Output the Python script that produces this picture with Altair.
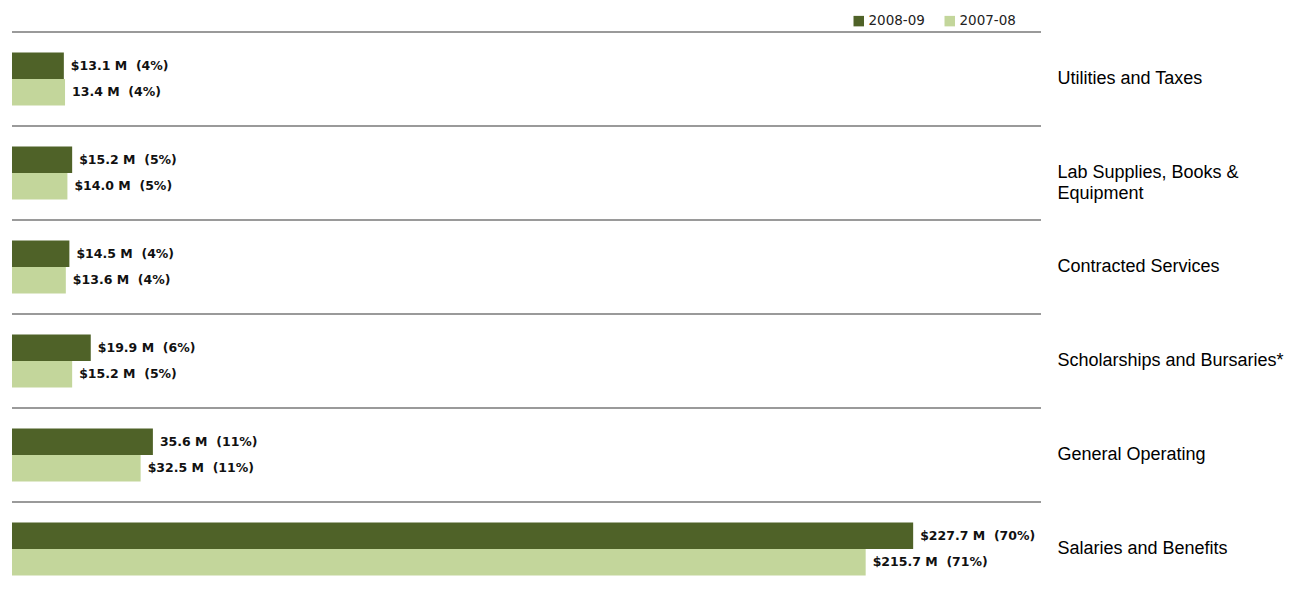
import altair as alt
import pandas as pd

categories = [
    "Utilities and Taxes",
    "Lab Supplies, Books & Equipment",
    "Contracted Services",
    "Scholarships and Bursaries*",
    "General Operating",
    "Salaries and Benefits",
]
series = ["2008-09", "2007-08"]
values_0809 = [13.1, 15.2, 14.5, 19.9, 35.6, 227.7]
values_0708 = [13.4, 14.0, 13.6, 15.2, 32.5, 215.7]
labels_0809 = ["$13.1 M  (4%)", "$15.2 M  (5%)", "$14.5 M  (4%)", "$19.9 M  (6%)", "35.6 M  (11%)", "$227.7 M  (70%)"]
labels_0708 = ["13.4 M  (4%)", "$14.0 M  (5%)", "$13.6 M  (4%)", "$15.2 M  (5%)", "$32.5 M  (11%)", "$215.7 M  (71%)"]

rows = []
for c, v, l in zip(categories, values_0809, labels_0809):
    rows.append({"category": c, "series": "2008-09", "value": v, "label": l.replace(" ", "\u00a0")})
for c, v, l in zip(categories, values_0708, labels_0708):
    rows.append({"category": c, "series": "2007-08", "value": v, "label": l.replace(" ", "\u00a0")})
df = pd.DataFrame(rows)
sep_df = pd.DataFrame({"category": categories})

DARK = "#4F6228"
LIGHT = "#C3D69B"
XMAX = 260
W = 1029
H = 552
ROW = 94

y_enc = alt.Y(
    "category:N",
    sort=categories,
    scale=alt.Scale(paddingInner=0, paddingOuter=0, range=[0, ROW * len(categories)]),
    axis=alt.Axis(
        orient="right", title=None, domain=False, ticks=False, grid=False,
        labelPadding=16, labelFont="Liberation Sans", labelFontSize=18,
        labelColor="#000000", labelAlign="left", labelBaseline="middle", labelLimit=240,
        labelLineHeight=21,
        labelExpr="datum.value == 'Lab Supplies, Books & Equipment' ? ['Lab Supplies, Books &', 'Equipment'] : datum.value",
    ),
)
x_enc = alt.X("value:Q", scale=alt.Scale(domain=[0, XMAX], nice=False, zero=True), axis=None)
yoff = alt.YOffset("series:N", sort=series, scale=alt.Scale(paddingOuter=0.78, paddingInner=0))

bars = alt.Chart(df).mark_bar().encode(
    x=x_enc,
    y=y_enc,
    yOffset=yoff,
    color=alt.Color(
        "series:N",
        sort=series,
        scale=alt.Scale(domain=series, range=[DARK, LIGHT]),
        legend=alt.Legend(
            orient="none", legendX=840, legendY=-18, direction="horizontal", title=None,
            symbolType="square", symbolSize=110, symbolStrokeWidth=0,
            labelFont="DejaVu Sans", labelFontSize=13.5, labelColor="#222222",
            columnPadding=18, labelOffset=3,
        ),
    ),
)

texts = alt.Chart(df).mark_text(
    align="left", baseline="middle", dx=7, font="DejaVu Sans", fontWeight="bold",
    fontSize=12.5, color="#111111",
).encode(x=x_enc, y=y_enc, yOffset=yoff, text="label:N")

seps = alt.Chart(sep_df).mark_rule(color="#9a9a9a", strokeWidth=2).encode(
    y=alt.Y("category:N", sort=categories, bandPosition=0),
    x=alt.value(0),
    x2=alt.value(W),
)

chart = alt.layer(seps, bars, texts).properties(
    width=W, height=H,
    padding={"left": 3, "top": 6, "right": 0, "bottom": 0},
).configure_view(stroke=None)

chart.save("out.html", embed_options={"renderer": "svg", "actions": False})
